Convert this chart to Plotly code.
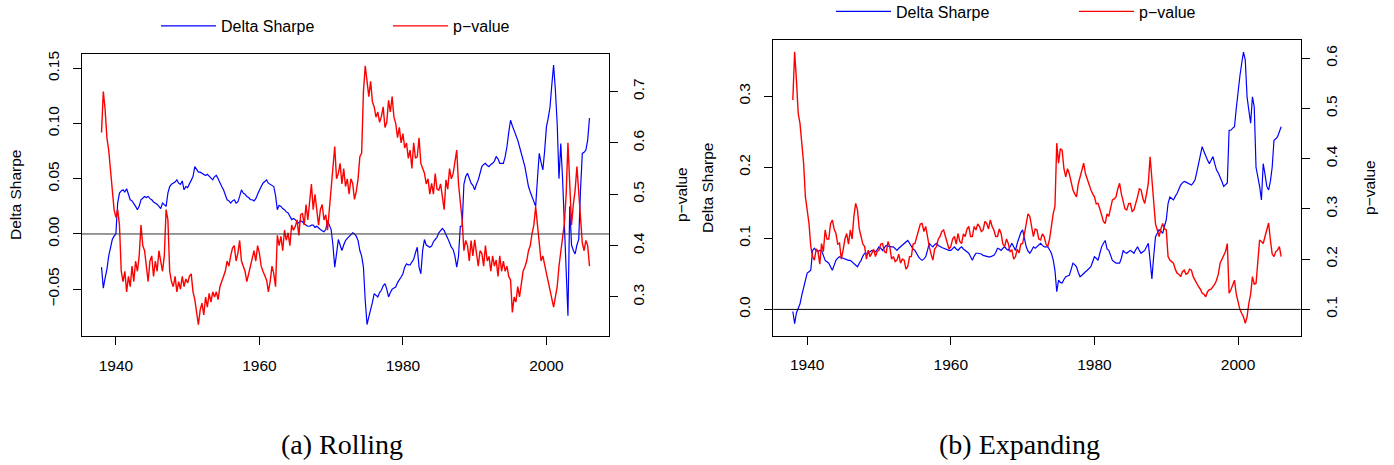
import numpy as np
import plotly.graph_objects as go

# ---------------- data (quarterly, 1938.00 .. 2006.00) ----------------
years = [1938.0 + 0.25 * i for i in range(273)]

roll_sharpe = [
    -0.030, -0.049, -0.040, -0.032,  # 1938
    -0.020, -0.012, -0.005, -0.002,  # 1939
    0.000, 0.028, 0.037, 0.039,  # 1940
    0.040, 0.038, 0.041, 0.036,  # 1941
    0.031, 0.030, 0.028, 0.025,  # 1942
    0.022, 0.025, 0.031, 0.033,  # 1943
    0.034, 0.033, 0.034, 0.032,  # 1944
    0.031, 0.029, 0.028, 0.027,  # 1945
    0.025, 0.023, 0.028, 0.026,  # 1946
    0.025, 0.037, 0.043, 0.045,  # 1947
    0.046, 0.047, 0.049, 0.046,  # 1948
    0.045, 0.048, 0.040, 0.043,  # 1949
    0.042, 0.045, 0.049, 0.052,  # 1950
    0.061, 0.058, 0.056, 0.056,  # 1951
    0.055, 0.054, 0.053, 0.054,  # 1952
    0.052, 0.050, 0.049, 0.052,  # 1953
    0.053, 0.050, 0.046, 0.043,  # 1954
    0.040, 0.036, 0.031, 0.030,  # 1955
    0.028, 0.030, 0.031, 0.028,  # 1956
    0.029, 0.034, 0.040, 0.037,  # 1957
    0.036, 0.034, 0.033, 0.031,  # 1958
    0.031, 0.030, 0.032, 0.036,  # 1959
    0.040, 0.043, 0.046, 0.048,  # 1960
    0.049, 0.046, 0.045, 0.044,  # 1961
    0.043, 0.035, 0.022, 0.026,  # 1962
    0.025, 0.023, 0.022, 0.020,  # 1963
    0.019, 0.016, 0.013, 0.014,  # 1964
    0.013, 0.011, 0.010, 0.012,  # 1965
    0.011, 0.009, 0.008, 0.007,  # 1966
    0.007, 0.008, 0.008, 0.006,  # 1967
    0.007, 0.005, 0.004, 0.003,  # 1968
    0.002, 0.004, 0.012, 0.008,  # 1969
    0.004, -0.010, -0.030, -0.018,  # 1970
    -0.005, -0.010, -0.015, -0.010,  # 1971
    -0.006, -0.004, -0.002, 0.000,  # 1972
    0.001, 0.000, -0.002, -0.006,  # 1973
    -0.015, -0.020, -0.030, -0.060,  # 1974
    -0.082, -0.075, -0.069, -0.062,  # 1975
    -0.054, -0.056, -0.057, -0.053,  # 1976
    -0.051, -0.047, -0.045, -0.050,  # 1977
    -0.057, -0.053, -0.050, -0.049,  # 1978
    -0.048, -0.044, -0.042, -0.039,  # 1979
    -0.036, -0.030, -0.027, -0.028,  # 1980
    -0.028, -0.025, -0.023, -0.017,  # 1981
    -0.012, -0.030, -0.036, -0.015,  # 1982
    -0.005, -0.010, -0.011, -0.012,  # 1983
    -0.011, -0.007, -0.005, -0.003,  # 1984
    0.001, 0.003, 0.005, 0.003,  # 1985
    0.000, -0.004, -0.008, -0.012,  # 1986
    -0.014, -0.020, -0.030, -0.020,  # 1987
    0.007, 0.007, 0.045, 0.052,  # 1988
    0.055, 0.050, 0.046, 0.044,  # 1989
    0.040, 0.045, 0.049, 0.055,  # 1990
    0.061, 0.063, 0.064, 0.062,  # 1991
    0.061, 0.063, 0.064, 0.066,  # 1992
    0.070, 0.068, 0.064, 0.064,  # 1993
    0.064, 0.070, 0.079, 0.092,  # 1994
    0.103, 0.098, 0.094, 0.090,  # 1995
    0.085, 0.079, 0.073, 0.067,  # 1996
    0.061, 0.052, 0.043, 0.038,  # 1997
    0.034, 0.029, 0.025, 0.050,  # 1998
    0.073, 0.065, 0.058, 0.075,  # 1999
    0.097, 0.105, 0.115, 0.135,  # 2000
    0.153, 0.130, 0.100, 0.050,  # 2001
    0.082, 0.050, 0.007, -0.030,  # 2002
    -0.074, 0.025, -0.010, -0.015,  # 2003
    -0.018, -0.010, -0.005, 0.040,  # 2004
    0.073, 0.074, 0.076, 0.085,  # 2005
    0.105,  # 2006
]

roll_pvalue = [
    0.620, 0.700, 0.665, 0.610,  # 1938
    0.586, 0.550, 0.520, 0.470,  # 1939
    0.455, 0.470, 0.440, 0.350,  # 1940
    0.330, 0.350, 0.310, 0.340,  # 1941
    0.320, 0.360, 0.330, 0.370,  # 1942
    0.350, 0.380, 0.440, 0.400,  # 1943
    0.390, 0.360, 0.330, 0.370,  # 1944
    0.380, 0.340, 0.370, 0.350,  # 1945
    0.390, 0.370, 0.350, 0.380,  # 1946
    0.470, 0.450, 0.350, 0.330,  # 1947
    0.320, 0.340, 0.310, 0.330,  # 1948
    0.315, 0.340, 0.320, 0.335,  # 1949
    0.327, 0.340, 0.345, 0.310,  # 1950
    0.295, 0.270, 0.246, 0.275,  # 1951
    0.288, 0.265, 0.300, 0.280,  # 1952
    0.307, 0.290, 0.310, 0.300,  # 1953
    0.310, 0.295, 0.320, 0.330,  # 1954
    0.340, 0.350, 0.370, 0.360,  # 1955
    0.380, 0.395, 0.400, 0.370,  # 1956
    0.385, 0.410, 0.370, 0.360,  # 1957
    0.350, 0.330, 0.345, 0.360,  # 1958
    0.380, 0.390, 0.370, 0.400,  # 1959
    0.385, 0.360, 0.350, 0.340,  # 1960
    0.333, 0.310, 0.330, 0.360,  # 1961
    0.346, 0.320, 0.420, 0.400,  # 1962
    0.418, 0.390, 0.430, 0.410,  # 1963
    0.425, 0.400, 0.440, 0.430,  # 1964
    0.437, 0.450, 0.420, 0.460,  # 1965
    0.463, 0.440, 0.480, 0.450,  # 1966
    0.490, 0.520, 0.470, 0.500,  # 1967
    0.469, 0.440, 0.470, 0.480,  # 1968
    0.450, 0.460, 0.430, 0.470,  # 1969
    0.508, 0.550, 0.593, 0.530,  # 1970
    0.540, 0.560, 0.520, 0.550,  # 1971
    0.515, 0.530, 0.500, 0.530,  # 1972
    0.521, 0.490, 0.505, 0.530,  # 1973
    0.573, 0.580, 0.700, 0.750,  # 1974
    0.716, 0.690, 0.720, 0.680,  # 1975
    0.670, 0.650, 0.660, 0.640,  # 1976
    0.651, 0.670, 0.630, 0.640,  # 1977
    0.683, 0.660, 0.690, 0.650,  # 1978
    0.638, 0.610, 0.630, 0.600,  # 1979
    0.618, 0.590, 0.600, 0.570,  # 1980
    0.586, 0.550, 0.600, 0.570,  # 1981
    0.573, 0.610, 0.560, 0.550,  # 1982
    0.541, 0.520, 0.530, 0.500,  # 1983
    0.521, 0.500, 0.540, 0.510,  # 1984
    0.508, 0.520, 0.490, 0.470,  # 1985
    0.528, 0.510, 0.550, 0.530,  # 1986
    0.540, 0.560, 0.586, 0.520,  # 1987
    0.480, 0.450, 0.390, 0.410,  # 1988
    0.400, 0.370, 0.410, 0.380,  # 1989
    0.411, 0.380, 0.360, 0.390,  # 1990
    0.385, 0.360, 0.400, 0.370,  # 1991
    0.379, 0.350, 0.380, 0.360,  # 1992
    0.372, 0.340, 0.380, 0.350,  # 1993
    0.370, 0.350, 0.360, 0.340,  # 1994
    0.333, 0.270, 0.300, 0.290,  # 1995
    0.320, 0.300, 0.330, 0.350,  # 1996
    0.359, 0.370, 0.390, 0.400,  # 1997
    0.424, 0.440, 0.476, 0.440,  # 1998
    0.398, 0.370, 0.380, 0.360,  # 1999
    0.346, 0.330, 0.314, 0.300,  # 2000
    0.280, 0.300, 0.320, 0.360,  # 2001
    0.385, 0.410, 0.443, 0.500,  # 2002
    0.600, 0.520, 0.440, 0.480,  # 2003
    0.508, 0.554, 0.500, 0.440,  # 2004
    0.405, 0.390, 0.410, 0.400,  # 2005
    0.360,  # 2006
]

exp_sharpe = [
    -0.003, -0.020, -0.005, 0.002,  # 1938
    0.008, 0.020, 0.032, 0.042,  # 1939
    0.051, 0.053, 0.055, 0.083,  # 1940
    0.086, 0.083, 0.081, 0.083,  # 1941
    0.083, 0.076, 0.069, 0.067,  # 1942
    0.065, 0.060, 0.055, 0.062,  # 1943
    0.069, 0.072, 0.074, 0.073,  # 1944
    0.072, 0.071, 0.069, 0.069,  # 1945
    0.069, 0.067, 0.065, 0.062,  # 1946
    0.060, 0.065, 0.069, 0.075,  # 1947
    0.079, 0.079, 0.079, 0.081,  # 1948
    0.083, 0.082, 0.081, 0.084,  # 1949
    0.088, 0.086, 0.083, 0.087,  # 1950
    0.090, 0.089, 0.088, 0.088,  # 1951
    0.088, 0.085, 0.083, 0.086,  # 1952
    0.088, 0.090, 0.093, 0.095,  # 1953
    0.097, 0.093, 0.088, 0.085,  # 1954
    0.083, 0.078, 0.074, 0.071,  # 1955
    0.069, 0.071, 0.074, 0.083,  # 1956
    0.093, 0.090, 0.088, 0.091,  # 1957
    0.093, 0.090, 0.088, 0.087,  # 1958
    0.086, 0.085, 0.083, 0.083,  # 1959
    0.083, 0.086, 0.088, 0.085,  # 1960
    0.083, 0.086, 0.088, 0.085,  # 1961
    0.083, 0.081, 0.079, 0.074,  # 1962
    0.069, 0.075, 0.079, 0.079,  # 1963
    0.079, 0.078, 0.076, 0.075,  # 1964
    0.074, 0.074, 0.074, 0.075,  # 1965
    0.076, 0.080, 0.086, 0.085,  # 1966
    0.083, 0.086, 0.088, 0.085,  # 1967
    0.083, 0.088, 0.093, 0.088,  # 1968
    0.083, 0.093, 0.102, 0.108,  # 1969
    0.112, 0.100, 0.088, 0.082,  # 1970
    0.079, 0.083, 0.088, 0.086,  # 1971
    0.088, 0.090, 0.093, 0.090,  # 1972
    0.088, 0.088, 0.088, 0.084,  # 1973
    0.079, 0.070, 0.055, 0.025,  # 1974
    0.041, 0.038, 0.037, 0.042,  # 1975
    0.046, 0.047, 0.048, 0.056,  # 1976
    0.065, 0.063, 0.060, 0.052,  # 1977
    0.046, 0.048, 0.051, 0.053,  # 1978
    0.055, 0.057, 0.060, 0.067,  # 1979
    0.074, 0.072, 0.069, 0.079,  # 1980
    0.088, 0.093, 0.097, 0.085,  # 1981
    0.083, 0.076, 0.069, 0.067,  # 1982
    0.065, 0.065, 0.065, 0.072,  # 1983
    0.083, 0.080, 0.079, 0.081,  # 1984
    0.083, 0.081, 0.079, 0.084,  # 1985
    0.088, 0.083, 0.079, 0.081,  # 1986
    0.083, 0.088, 0.093, 0.069,  # 1987
    0.043, 0.075, 0.102, 0.107,  # 1988
    0.112, 0.110, 0.107, 0.117,  # 1989
    0.126, 0.149, 0.158, 0.156,  # 1990
    0.154, 0.159, 0.163, 0.169,  # 1991
    0.175, 0.178, 0.180, 0.179,  # 1992
    0.178, 0.177, 0.175, 0.178,  # 1993
    0.182, 0.193, 0.205, 0.217,  # 1994
    0.229, 0.222, 0.215, 0.210,  # 1995
    0.205, 0.210, 0.215, 0.205,  # 1996
    0.196, 0.192, 0.187, 0.180,  # 1997
    0.173, 0.176, 0.178, 0.252,  # 1998
    0.252, 0.255, 0.257, 0.283,  # 1999
    0.309, 0.328, 0.346, 0.362,  # 2000
    0.351, 0.299, 0.280, 0.262,  # 2001
    0.299, 0.285, 0.200, 0.187,  # 2002
    0.173, 0.154, 0.205, 0.190,  # 2003
    0.173, 0.168, 0.180, 0.200,  # 2004
    0.238, 0.240, 0.243, 0.250,  # 2005
    0.257,  # 2006
]

exp_pvalue = [
    0.517, 0.613, 0.557, 0.490,  # 1938
    0.470, 0.437, 0.391, 0.324,  # 1939
    0.298, 0.271, 0.225, 0.205,  # 1940
    0.198, 0.220, 0.216, 0.190,  # 1941
    0.231, 0.215, 0.258, 0.240,  # 1942
    0.240, 0.270, 0.278, 0.260,  # 1943
    0.251, 0.230, 0.232, 0.200,  # 1944
    0.218, 0.240, 0.251, 0.230,  # 1945
    0.258, 0.240, 0.285, 0.311,  # 1946
    0.298, 0.260, 0.245, 0.230,  # 1947
    0.225, 0.200, 0.218, 0.205,  # 1948
    0.212, 0.220, 0.205, 0.215,  # 1949
    0.218, 0.230, 0.231, 0.215,  # 1950
    0.212, 0.235, 0.225, 0.200,  # 1951
    0.205, 0.195, 0.198, 0.210,  # 1952
    0.192, 0.200, 0.198, 0.180,  # 1953
    0.185, 0.205, 0.205, 0.230,  # 1954
    0.231, 0.245, 0.258, 0.270,  # 1955
    0.271, 0.255, 0.265, 0.240,  # 1956
    0.225, 0.210, 0.198, 0.220,  # 1957
    0.225, 0.240, 0.245, 0.255,  # 1958
    0.258, 0.245, 0.231, 0.220,  # 1959
    0.225, 0.240, 0.245, 0.230,  # 1960
    0.251, 0.235, 0.231, 0.250,  # 1961
    0.245, 0.260, 0.265, 0.245,  # 1962
    0.245, 0.265, 0.258, 0.270,  # 1963
    0.265, 0.255, 0.258, 0.275,  # 1964
    0.271, 0.260, 0.278, 0.265,  # 1965
    0.258, 0.245, 0.245, 0.260,  # 1966
    0.251, 0.230, 0.225, 0.240,  # 1967
    0.231, 0.215, 0.218, 0.200,  # 1968
    0.205, 0.220, 0.212, 0.230,  # 1969
    0.231, 0.250, 0.271, 0.290,  # 1970
    0.285, 0.260, 0.245, 0.260,  # 1971
    0.258, 0.240, 0.238, 0.250,  # 1972
    0.245, 0.230, 0.225, 0.240,  # 1973
    0.271, 0.290, 0.305, 0.431,  # 1974
    0.391, 0.420, 0.417, 0.380,  # 1975
    0.364, 0.380, 0.370, 0.350,  # 1976
    0.338, 0.330, 0.324, 0.350,  # 1977
    0.364, 0.380, 0.391, 0.370,  # 1978
    0.358, 0.345, 0.338, 0.330,  # 1979
    0.324, 0.310, 0.311, 0.300,  # 1980
    0.285, 0.275, 0.271, 0.290,  # 1981
    0.285, 0.300, 0.318, 0.320,  # 1982
    0.324, 0.340, 0.351, 0.330,  # 1983
    0.311, 0.300, 0.298, 0.310,  # 1984
    0.311, 0.295, 0.298, 0.310,  # 1985
    0.324, 0.340, 0.338, 0.320,  # 1986
    0.311, 0.330, 0.351, 0.404,  # 1987
    0.358, 0.324, 0.270, 0.258,  # 1988
    0.245, 0.260, 0.271, 0.260,  # 1989
    0.258, 0.205, 0.198, 0.195,  # 1990
    0.192, 0.180, 0.172, 0.170,  # 1991
    0.165, 0.175, 0.178, 0.170,  # 1992
    0.172, 0.180, 0.178, 0.165,  # 1993
    0.158, 0.150, 0.145, 0.140,  # 1994
    0.132, 0.130, 0.125, 0.135,  # 1995
    0.139, 0.140, 0.145, 0.150,  # 1996
    0.158, 0.170, 0.192, 0.200,  # 1997
    0.205, 0.215, 0.231, 0.132,  # 1998
    0.139, 0.150, 0.158, 0.130,  # 1999
    0.112, 0.100, 0.092, 0.085,  # 2000
    0.072, 0.085, 0.112, 0.130,  # 2001
    0.165, 0.150, 0.152, 0.200,  # 2002
    0.238, 0.235, 0.231, 0.245,  # 2003
    0.258, 0.272, 0.238, 0.210,  # 2004
    0.205, 0.215, 0.218, 0.225,  # 2005
    0.205,  # 2006
]

x_ticks = [1940, 1960, 1980, 2000]
legend_names = ["Delta Sharpe", "p\u2212value"]
subcaptions = ["(a) Rolling", "(b) Expanding"]

# ---------------- figure ----------------
W, H = 1394, 465
SANS = "Liberation Sans, Arial, Helvetica, sans-serif"
FS = 15.5
BLUE, RED = "#0000FF", "#FF0000"

def px_x(p):
    return p / W

def px_y(p):
    return 1 - p / H

fig = go.Figure()

fig.add_trace(go.Scatter(x=years, y=roll_sharpe, mode="lines", name=legend_names[0],
                         line=dict(color=BLUE, width=1.2), xaxis="x", yaxis="y",
                         legend="legend"))
fig.add_trace(go.Scatter(x=years, y=roll_pvalue, mode="lines", name=legend_names[1],
                         line=dict(color=RED, width=1.4), xaxis="x", yaxis="y2",
                         legend="legend"))
fig.add_trace(go.Scatter(x=years, y=exp_sharpe, mode="lines", name=legend_names[0],
                         line=dict(color=BLUE, width=1.2), xaxis="x2", yaxis="y3",
                         legend="legend2"))
fig.add_trace(go.Scatter(x=years, y=exp_pvalue, mode="lines", name=legend_names[1],
                         line=dict(color=RED, width=1.4), xaxis="x2", yaxis="y4",
                         legend="legend2"))

axis_common = dict(showgrid=False, zeroline=False, showline=True, linecolor="black",
                   linewidth=1.2, ticks="outside", ticklen=8, tickwidth=1.2,
                   tickcolor="black", tickfont=dict(family=SANS, size=FS, color="black"))

xr = [1935.28, 2008.72]
dom1 = [px_x(82), px_x(609)]
dom2 = [px_x(773.3), px_x(1300.7)]
ydom1 = [px_y(336), px_y(54)]
ydom2 = [px_y(335.7), px_y(40)]

legend_common = dict(orientation="h", xanchor="left", yanchor="middle",
                     font=dict(family=SANS, size=16, color="black"),
                     bgcolor="rgba(0,0,0,0)", entrywidthmode="pixels", itemwidth=55)

fig.update_layout(
    width=W, height=H, margin=dict(l=0, r=0, t=0, b=0, autoexpand=False),
    paper_bgcolor="white", plot_bgcolor="white",
    xaxis=dict(domain=dom1, range=xr, tickvals=x_ticks, anchor="y", mirror=True,
               ticklabelstandoff=7, **axis_common),
    yaxis=dict(domain=ydom1, range=[-0.0924, 0.163], tickvals=[-0.05, 0, 0.05, 0.10, 0.15],
               tickformat=".2f", tickangle=-90, anchor="x", mirror=True,
               ticklabelstandoff=8, **axis_common),
    yaxis2=dict(range=[0.224, 0.773], tickvals=[0.3, 0.4, 0.5, 0.6, 0.7], tickformat=".1f",
                tickangle=-90, overlaying="y", side="right", anchor="x",
                ticklabelstandoff=7, **axis_common),
    xaxis2=dict(domain=dom2, range=xr, tickvals=x_ticks, anchor="y3", mirror=True,
                ticklabelstandoff=7, **axis_common),
    yaxis3=dict(domain=ydom2, range=[-0.037, 0.379], tickvals=[0.0, 0.1, 0.2, 0.3],
                tickformat=".1f", tickangle=-90, anchor="x2", mirror=True,
                ticklabelstandoff=8, **axis_common),
    yaxis4=dict(range=[0.0474, 0.6365], tickvals=[0.1, 0.2, 0.3, 0.4, 0.5, 0.6],
                tickformat=".1f", tickangle=-90, overlaying="y3", side="right", anchor="x2",
                ticklabelstandoff=9, **axis_common),
    legend=dict(x=px_x(156), y=px_y(26), entrywidth=162, **legend_common),
    legend2=dict(x=px_x(831), y=px_y(11.5), entrywidth=173, **legend_common),
    showlegend=True,
)

# horizontal zero lines
fig.add_shape(type="line", xref="x domain", yref="y", x0=0, x1=1, y0=0, y1=0,
              line=dict(color="#333333", width=1))
fig.add_shape(type="line", xref="x2 domain", yref="y3", x0=0, x1=1, y0=0, y1=0,
              line=dict(color="black", width=1))

# axis titles
def vtitle(text, xp, yp):
    fig.add_annotation(text=text, x=px_x(xp), y=px_y(yp), xref="paper", yref="paper",
                       showarrow=False, textangle=-90, xanchor="center", yanchor="middle",
                       font=dict(family=SANS, size=FS, color="black"))

vtitle("Delta Sharpe", 15, 195)
vtitle("p\u2212value", 681, 195)
vtitle("Delta Sharpe", 707, 188)
vtitle("p\u2212value", 1369, 188)

# sub-captions
for text, xp in zip(subcaptions, [341.5, 1019.5]):
    fig.add_annotation(text=text, x=px_x(xp), y=px_y(444), xref="paper", yref="paper",
                       showarrow=False, xanchor="center", yanchor="middle",
                       font=dict(family="Liberation Serif, Times New Roman, serif", size=28,
                                 color="black"))

fig.write_html("out.html")
